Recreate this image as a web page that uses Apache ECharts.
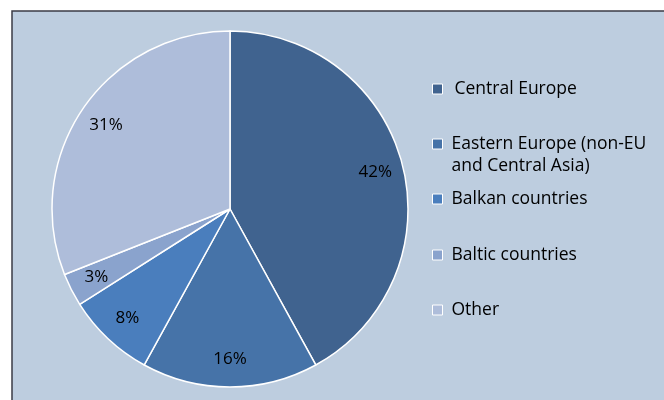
<!DOCTYPE html>
<html>
<head>
<meta charset="utf-8">
<script src="https://cdn.jsdelivr.net/npm/echarts@6/dist/echarts.min.js"></script>
<style>
  html, body { margin: 0; padding: 0; background: #fff; }
  #chart { width: 664px; height: 400px; }
</style>
</head>
<body>
<div id="chart"></div>
<script>
// data
const regions = ['Central Europe', 'Eastern Europe (non-EU and Central Asia)', 'Balkan countries', 'Baltic countries', 'Other']
const shares = [42, 16, 8, 3, 31]
const colors = ['#40638f', '#4673a8', '#4a7ebd', '#8aa3cd', '#aebdda']

// legend rows (center y of the marker / first text line)
const legendRows = [89, 144, 199, 255, 310]

const chart = echarts.init(document.getElementById('chart'))

const pieData = regions.map((name, i) => ({
  name,
  value: shares[i],
  itemStyle: { color: colors[i] }
}))

// one legend per row so the two-line entry keeps its marker on the first line
// (a blank leading line puts the marker level with "Eastern Europe")
const legends = regions.map((name, i) => {
  const twoLines = i === 1
  return {
    orient: 'vertical',
    left: 422,
    top: twoLines ? legendRows[i] - 43 : legendRows[i] - 21,
    padding: 10,
    data: [name],
    icon: 'rect',
    itemWidth: 10,
    itemHeight: 10,
    itemStyle: { borderColor: '#fff', borderWidth: 1 },
    selectedMode: false,
    formatter: (n) => twoLines ? ' \nEastern Europe (non-EU\nand Central Asia)' : n,
    textStyle: {
      fontFamily: 'Open Sans',
      fontSize: 17.5,
      color: '#000',
      lineHeight: 22,
      padding: [0, 0, 0, i === 0 ? 7 : 4]
    }
  }
})

chart.setOption({
  animation: false,
  graphic: [{
    type: 'rect',
    shape: { x: 12, y: 11, width: 700, height: 420 },
    style: { fill: '#bdcddf', stroke: '#3b3b45', lineWidth: 1.5 },
    z: -10
  }],
  legend: legends,
  series: [
    {
      type: 'pie',
      center: [230, 209],
      radius: [0, 178],
      startAngle: 90,
      clockwise: true,
      silent: true,
      label: { show: false },
      labelLine: { show: false },
      itemStyle: { borderColor: '#fff', borderWidth: 1.5 },
      data: pieData
    },
    {
      // label carrier: same slices, transparent, labels at ~0.83 of the radius
      type: 'pie',
      center: [230, 209],
      radius: [116, 178],
      startAngle: 90,
      clockwise: true,
      silent: true,
      legendHoverLink: false,
      itemStyle: { color: 'rgba(0,0,0,0)', borderWidth: 0 },
      label: {
        show: true,
        position: 'inside',
        formatter: '{c}%',
        fontFamily: 'Open Sans',
        fontSize: 17,
        color: '#000'
      },
      labelLine: { show: false },
      data: regions.map((name, i) => ({ name: name + ' ', value: shares[i] }))
    }
  ]
})
</script>
</body>
</html>
